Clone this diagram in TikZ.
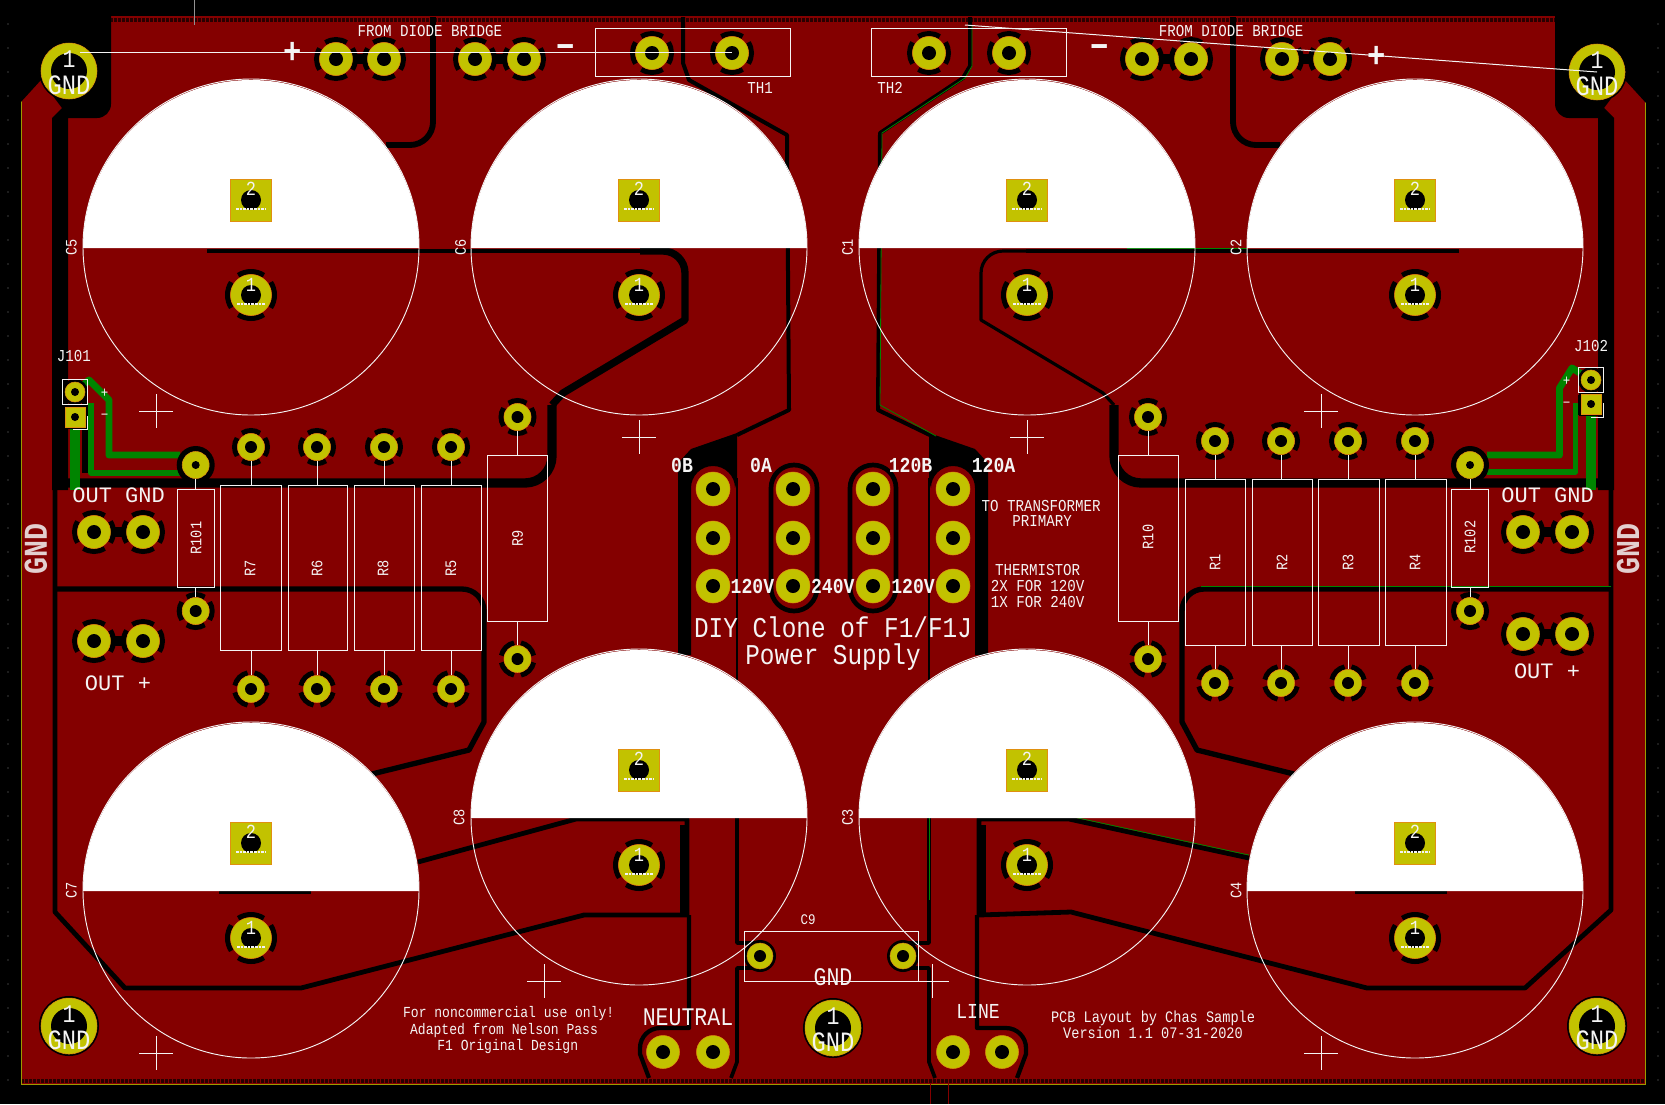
\documentclass[tikz,border=0pt]{standalone}
\usepackage{fontspec}
\newfontfamily\pcbwide{Liberation Mono}
\newfontfamily\pcbnarrow[FakeStretch=0.85]{Liberation Mono}
\newfontfamily\pcbbold[FakeStretch=0.85]{Liberation Mono Bold}
\newcommand{\fs}[1]{\fontsize{#1}{#1}\selectfont}
\definecolor{copper}{HTML}{840000}
\definecolor{padyellow}{HTML}{C2C200}
\definecolor{trackgreen}{HTML}{008400}
\definecolor{silk}{HTML}{F4F4F4}
\definecolor{padring}{HTML}{E09010}
\tikzset{every picture/.style={line width=0.75pt}}
\tikzset{
  silkline/.style={draw=silk,line width=0.75pt},
  chan/.style={draw=black,line width=#1,line join=round},
  chan/.default=3pt,
  track/.style={draw=trackgreen,line width=#1,line join=round},
  capdisk/.style={draw=silk,line width=0.7pt},
  silktext/.style={text=silk,inner sep=0pt,font=\pcbnarrow\fs{12.5}},
  bigtext/.style={text=silk,inner sep=0pt,font=\pcbwide\fs{16.5}},
  boldtext/.style={text=silk,inner sep=0pt,font=\pcbbold\fs{16}},
  sidetext/.style={text=silk,inner sep=0pt,rotate=90,font=\pcbnarrow\fs{12}},
  padnum/.style={text=silk,inner sep=0pt,font=\pcbnarrow\fs{15}},
}
% round pad with its hole and the thermal spokes
\def\spokeang{0}
\newcommand{\thpad}[5][14]{%
  \foreach \spk in {0,90,180,270} {
    \draw[black,line width=3.75pt] ([shift={(\spk+\spokeang-33:#4+3)}]#2,#3) arc [start angle=\spk+\spokeang-33,end angle=\spk+\spokeang+33,radius=#4+3];
  }
  \node[circle,fill=padyellow,draw=padring,line width=0.4pt,minimum size=2*#4*0.75pt,inner sep=0pt] (#5) at (#2,#3) {};
  \fill[black] (#5.center) circle [radius=#1/2];}
\newcommand{\plainpad}[5][14]{%
  \node[circle,fill=padyellow,draw=padring,line width=0.4pt,minimum size=2*#4*0.75pt,inner sep=0pt] (#5) at (#2,#3) {};
  \fill[black] (#5.center) circle [radius=#1/2];}
% channels of the left half, drawn a second time mirrored; #1 is the upper diagonal's width
\newcommand{\halfchannels}[1]{%
  % corner block and long channels
  \fill[black] (20,16) -- (111,16) -- (111,104) arc [start angle=0,end angle=90,radius=14] -- (68,118) -- (68,490) -- (52,490) -- (52,118) -- (62,108) -- (41,80) -- (20,103) -- cycle;
  \draw[chan=7pt] (60,483) -- (525,483) arc [start angle=90,end angle=0,radius=27] -- (552,405);
  \draw[chan=#1] (552,405) -- (563,393) -- (685,320) -- (685,273) arc [start angle=0,end angle=-90,radius=22] -- (640,251);
  \draw[chan=3.4pt] (640,251) -- (207,251);
  \draw[chan=4pt] (55,589) -- (462,589) arc [start angle=-90,end angle=0,radius=22] -- (484,722) -- (469,750) -- (372,774);
  \draw[chan=3.6pt] (219,892) -- (311,892);
  \draw[chan=4.4pt] (433,17) -- (433,122) arc [start angle=0,end angle=90,radius=23] -- (386,145);
  % centre block above the outer pads
  \fill[black] (678,655) -- (678,463) -- (691,449) -- (737,433) -- (737,481) -- (735,488) arc [start angle=0,end angle=-180,radius=22] -- (691,655) -- cycle;
  \draw[chan=1pt] (737,478) -- (737,680);
  \draw[chan=2.8pt] (737,818) -- (737,943) -- (762,943);
  \draw[chan=2.8pt] (762,968) -- (737,968) -- (737,1062) -- (731,1078);
  % terminal pair at the foot of the board
  \draw[chan=5.5pt] (684,825) -- (684,913);
  \draw[chan=3.2pt] (689,915) -- (689,1028) -- (660,1028) arc [start angle=-90,end angle=-180,radius=20] -- (640,1054) -- (649,1078);
}
\begin{document}
\begin{tikzpicture}[x=0.75pt,y=0.75pt,yscale=-1,xscale=1]
\useasboundingbox (0,0) rectangle (1665,1104);
\fill[black] (0,0) rectangle (1665,1104);

% Board and zones
\fill[copper] (21,16) rectangle (1645,1084);
\draw[black!70!copper,line width=3.6pt,dash pattern=on 2pt off 1pt] (110,20) -- (1555,20);
\draw[black!70!copper,line width=3.6pt,dash pattern=on 2pt off 1pt] (21,1081) -- (1645,1081);
\draw[draw=padyellow!80!black,line width=0.6pt] (111,16) -- (21,16) -- (21,1084) -- (1645,1084) -- (1645,16) -- (1556,16);
\draw[draw=silk!60!black,line width=0.7pt] (194.6,0) -- (194.6,25);
\draw[draw=copper,line width=0.5pt] (930,1084) -- (930,1104) (948,1084) -- (948,1104);

% grid dots on the free margins
\foreach \row in {24,48,...,1080} {
  \fill[gray] (8,\row) circle [radius=0.7];
  \fill[gray] (1658,\row) circle [radius=0.7];
}

% Channels
\halfchannels{5.5pt}
\begin{scope}[xshift=1249.5pt,xscale=-1]
\halfchannels{2.4pt}
\end{scope}

% Channels that differ left to right
\draw[chan=3.6pt] (55,488) -- (55,912) -- (125,988) -- (301,988) -- (584,915) -- (687,915) -- (687,819) -- (576,819) -- (418,862);
\draw[chan=3.6pt] (1611,488) -- (1611,910) -- (1525,988) -- (1367,988) -- (1071,912) -- (979,915) -- (979,819) -- (1069,819) -- (1249,858);
\draw[chan=3pt] (683,17) -- (683,63) -- (689,80) -- (787,135) -- (789,410) -- (737,435);
\draw[chan=3pt] (970,17) -- (970,66) -- (963,78) -- (880,133) -- (878,410) -- (936,438);
\draw[draw=trackgreen,line width=0.6pt] (972,25) -- (972,66) -- (965,78) -- (882,133) -- (880,405) -- (936,436);
\draw[draw=trackgreen,line width=0.6pt] (1201,586) -- (1611,586);
\draw[draw=trackgreen,line width=0.6pt] (1069,816) -- (1249,855);
\draw[draw=trackgreen,line width=0.6pt] (1127,248) -- (1247,248);
\draw[draw=trackgreen,line width=0.6pt] (929,818) -- (929,900);

% Pills round the middle terminals
\draw[chan=3.5pt,fill=copper] (771,488) arc [start angle=180,end angle=360,radius=23] -- (817,588) arc [start angle=0,end angle=180,radius=23] -- cycle;
\draw[chan=3.5pt,fill=copper] (850,488) arc [start angle=180,end angle=360,radius=23] -- (896,588) arc [start angle=0,end angle=180,radius=23] -- cycle;

% Green tracks
\draw[track=5.2pt] (75,392) -- (89,380) -- (109,400) -- (109,455) -- (180,455);
\draw[track=4pt] (91,403) -- (91,473) -- (180,473);
\draw[track=8pt] (75,424) -- (75,490);
\draw[chan=4.5pt] (84.5,395) -- (84.5,473);
\draw[track=5.2pt] (1591,380) -- (1572,368) -- (1559.5,388) -- (1559.5,455) -- (1487,455);
\draw[track=4pt] (1575.7,403) -- (1575.7,472) -- (1487,472);
\draw[track=8pt] (1591,415) -- (1591,490);
\draw[chan=4.5pt] (1581,395) -- (1581,415);

% Black bridges between paired pads
\foreach \ax/\bx/\py in {336/384/59,475/524/59,1142/1191/59,1282/1330/59,94/143/532,94/143/641,1523/1572/532,1523/1572/634} {
  \draw[chan=7pt] (\ax,\py) -- (\bx,\py);
}

% Diode bridge and output pads
\foreach \px/\nm in {336/db1,384/db2,475/db3,524/db4,1142/db5,1191/db6,1282/db7,1330/db8} {
  \thpad{\px}{59}{16.5}{\nm}
}
\foreach \px/\nm in {652/th1a,732/th1b,929/th2a,1009/th2b} {
  \thpad{\px}{53}{16.5}{\nm}
}
\thpad{94}{532}{16.5}{oga}
\thpad{143}{532}{16.5}{ogb}
\thpad{94}{641}{16.5}{opa}
\thpad{143}{641}{16.5}{opb}
\thpad{1523}{532}{16.5}{ogc}
\thpad{1572}{532}{16.5}{ogd}
\thpad{1523}{634}{16.5}{opc}
\thpad{1572}{634}{16.5}{opd}

% Resistor pads
\foreach \px/\nm in {251/r7,317/r6,384/r8,451/r5} {
  \thpad[12]{\px}{447}{13.5}{\nm a}
  \def\spokeang{45}
  \thpad[12]{\px}{689}{13.5}{\nm b}
}
\foreach \px/\nm in {1215/r1,1281/r2,1348/r3,1415/r4} {
  \thpad[12]{\px}{441}{13.5}{\nm a}
  \def\spokeang{45}
  \thpad[12]{\px}{683}{13.5}{\nm b}
}
\thpad[12]{517.5}{417}{13.5}{r9a}
\thpad[12]{1148}{417}{13.5}{r10a}
\begin{scope}
\def\spokeang{45}
\thpad[12]{517.5}{659}{13.5}{r9b}
\thpad[12]{1148}{659}{13.5}{r10b}
\end{scope}
\fill[black] (195.7,465) circle [radius=19];
\plainpad[8]{195.7}{465}{13.5}{r101a}
\thpad[12]{195.7}{611}{13.5}{r101b}
\fill[black] (1470,465) circle [radius=19];
\plainpad[8]{1470}{465}{13.5}{r102a}
\thpad[12]{1470}{611}{13.5}{r102b}

% Connector pads
\fill[black] (75,392) circle [radius=13];
\plainpad[8]{75}{392}{10}{j101a}
\fill[black] (63,405) rectangle (87,429);
\draw[draw=padring,fill=padyellow,line width=0.4pt] (65,407) rectangle (85,427);
\fill[black] (75,417) circle [radius=4];
\fill[black] (1591,380) circle [radius=13];
\plainpad[8]{1591}{380}{10}{j102a}
\fill[black] (1579,392) rectangle (1603,416);
\draw[draw=padring,fill=padyellow,line width=0.4pt] (1581,394) rectangle (1601,414);
\fill[black] (1591,404) circle [radius=4];

% Terminals
\foreach \py/\row in {489/a,538/b,586/c} {
  \plainpad{713}{\py}{17}{ob\row}
  \plainpad{793}{\py}{17}{oa\row}
  \plainpad{873}{\py}{17}{hb\row}
  \plainpad{953}{\py}{17}{ha\row}
}
\plainpad{663}{1052}{16.5}{na}
\plainpad{713}{1052}{16.5}{nb}
\plainpad{953}{1052}{16.5}{la}
\plainpad{1002}{1052}{16.5}{lb}
\fill[black] (760,956) circle [radius=16];
\fill[black] (903,956) circle [radius=16];
\plainpad[12]{760}{956}{13}{c9a}
\plainpad[12]{903}{956}{13}{c9b}

% Capacitors
\foreach \cx/\cy/\nm/\lx in {251/247/C5/71.4,639/247/C6/460.7,1027/247/C1/847.5,1415/247/C2/1236,639/817/C8/459,1027/817/C3/847.6,251/890/C7/71.4,1415/890/C4/1236} {
  \fill[white] (\cx-168,\cy+1) arc [start angle=180,end angle=360,radius=168] -- cycle;
  \draw[capdisk] (\cx,\cy) circle [radius=168];
  \thpad[20]{\cx}{\cy+48}{20.5}{\nm pp}
  \fill[black] (\cx-21,\cy-68.5) rectangle (\cx+21,\cy-25.5);
  \draw[draw=padring,fill=padyellow,line width=0.4pt] (\cx-20.5,\cy-68) rectangle (\cx+20.5,\cy-26);
  \fill[black] (\cx,\cy-47) circle [radius=10];
  \draw[silk,line width=1pt,dash pattern=on 2pt off 0.7pt] (\cx-15,\cy-38) -- (\cx+15,\cy-38) (\cx-14,\cy+57) -- (\cx+14,\cy+57);
  \node[padnum] at (\cx,\cy-58) {2};
  \node[padnum] at (\cx,\cy+38) {1};
  \node[sidetext] at (\lx,\cy) {\nm};
}

% Mounting holes
\foreach \mx/\my/\nm in {69/71/mta,69/1026/mtb,833/1028/mtc,1597/72/mtd,1597/1026/mte} {
  \fill[black] (\mx,\my) circle [radius=30];
  \plainpad[36]{\mx}{\my}{28}{\nm}
  \node[text=silk,inner sep=0pt,font=\pcbnarrow\fs{19}] at (\mx,\my-12) {1};
  \node[text=silk,inner sep=0pt,font=\pcbnarrow\fs{21}] at (\mx,\my+14) {GND};
}

% Silkscreen outlines
\draw[silkline] (595,28) rectangle (790,76);
\draw[silkline] (871,28) rectangle (1066,76);
\draw[silkline] (80,52) -- (732,52);
\draw[silkline] (965,25) -- (1597,72);
\foreach \lx/\rl/\rr/\nm in {251/220/281/r7,317/288/347/r6,384/354/414/r8,451/421/481/r5} {
  \draw[silkline] (\rl,485) rectangle (\rr,650);
  \draw[silkline] (\nm a) -- (\lx,485) (\lx,650) -- (\nm b);
}
\foreach \lx/\rl/\rr/\nm in {1215/1185/1245/r1,1281/1252/1312/r2,1348/1318/1379/r3,1415/1385/1446/r4} {
  \draw[silkline] (\rl,479) rectangle (\rr,645);
  \draw[silkline] (\nm a) -- (\lx,479) (\lx,645) -- (\nm b);
}
\draw[silkline] (487.5,455) rectangle (547.5,621);
\draw[silkline] (r9a) -- (517.5,455) (517.5,621) -- (r9b);
\draw[silkline] (1118.5,455) rectangle (1178,621);
\draw[silkline] (r10a) -- (1148,455) (1148,621) -- (r10b);
\draw[silkline] (177.5,489) rectangle (214.5,587);
\draw[silkline] (r101a) -- (195.7,489) (195.7,587) -- (r101b);
\draw[silkline] (1451.5,489) rectangle (1488.5,587);
\draw[silkline] (r102a) -- (1470,489) (1470,587) -- (r102b);
\draw[silkline] (744.5,931) rectangle (918.5,981);
\draw[silkline] (62.5,379.5) rectangle (87.5,404.5);
\draw[silkline] (87.5,416) -- (87.5,429) -- (73,429);
\draw[silkline] (1578.5,367.5) rectangle (1603.5,392.5);
\draw[silkline] (1603.5,403) -- (1603.5,417) -- (1591,417);

% Courtyard crosses
\foreach \cx/\cy in {156/411,639/437,1027/437,1321/411,544/981,932/981,156/1053,1321/1053} {
  \draw[silkline,line width=0.7pt] (\cx-17,\cy) -- (\cx+17,\cy) (\cx,\cy-17) -- (\cx,\cy+17);
}

% Board text
\node[silktext] at (430,31) {FROM DIODE BRIDGE};
\node[silktext] at (1231,31) {FROM DIODE BRIDGE};
\node[silktext] at (760,88) {TH1};
\node[silktext] at (890,88) {TH2};
\node[silktext] at (74,356) {J101};
\node[silktext] at (1591,346) {J102};
\node[silktext,font=\pcbnarrow\fs{11}] at (104.6,393) {+};
\node[silktext,font=\pcbnarrow\fs{11}] at (104.6,417) {−};
\node[silktext,font=\pcbnarrow\fs{11}] at (1566.7,381) {+};
\node[silktext,font=\pcbnarrow\fs{11}] at (1566.7,405) {−};
\node[boldtext,font=\pcbbold\fs{27}] at (293,53) {+};
\node[boldtext,font=\pcbbold\fs{27}] at (566,52) {−};
\node[boldtext,font=\pcbbold\fs{27}] at (1100,52) {−};
\node[boldtext,font=\pcbbold\fs{27}] at (1377,57) {+};
\foreach \lx/\ly/\nm in {196/538/R101,250/568/R7,317/568/R6,383/568/R8,451/568/R5,517.5/538/R9,1148/537/R10,1215/562/R1,1282/562/R2,1348/562/R3,1415/562/R4,1470/537/R102} {
  \node[sidetext] at (\lx,\ly) {\nm};
}
\node[bigtext] at (118.6,495) {OUT GND};
\node[bigtext] at (1547.6,495) {OUT GND};
\node[bigtext] at (118,683) {OUT +};
\node[bigtext] at (1547,671) {OUT +};
\node[bigtext,rotate=90,text=silk!85!copper,font=\pcbbold\fs{25}] at (36,549) {GND};
\node[bigtext,rotate=90,text=silk!85!copper,font=\pcbbold\fs{25}] at (1628,549) {GND};
\node[boldtext] at (682,465) {0B};
\node[boldtext] at (761,465) {0A};
\node[boldtext] at (910.5,465) {120B};
\node[boldtext] at (993.5,465) {120A};
\node[boldtext] at (752.4,586) {120V};
\node[boldtext] at (832.8,586) {240V};
\node[boldtext] at (913,586) {120V};
\node[silktext] at (1041,506) {TO TRANSFORMER};
\node[silktext] at (1042,521) {PRIMARY};
\node[silktext] at (1037.5,570) {THERMISTOR};
\node[silktext] at (1037.5,586) {2X FOR 120V};
\node[silktext] at (1037.5,602) {1X FOR 240V};
\node[silktext,font=\pcbnarrow\fs{21.5}] at (833,627) {DIY Clone of F1/F1J};
\node[silktext,font=\pcbnarrow\fs{21.5}] at (833,657) {Power Supply};
\node[silktext,font=\pcbnarrow\fs{11.5}] at (508.7,1014) {For noncommercial use only!};
\node[silktext,font=\pcbnarrow\fs{11.5}] at (504,1031) {Adapted from Nelson Pass};
\node[silktext,font=\pcbnarrow\fs{11.5}] at (507.7,1047) {F1 Original Design};
\node[bigtext,font=\pcbnarrow\fs{19}] at (688,1017) {NEUTRAL};
\node[bigtext,font=\pcbnarrow\fs{16}] at (978,1011) {LINE};
\node[bigtext,font=\pcbnarrow\fs{19}] at (833,977) {GND};
\node[silktext,font=\pcbnarrow\fs{11}] at (808,920) {C9};
\node[silktext,font=\pcbnarrow\fs{12}] at (1153,1018) {PCB Layout by Chas Sample};
\node[silktext,font=\pcbnarrow\fs{12}] at (1153,1033) {Version 1.1 07-31-2020};
\end{tikzpicture}
\end{document}
